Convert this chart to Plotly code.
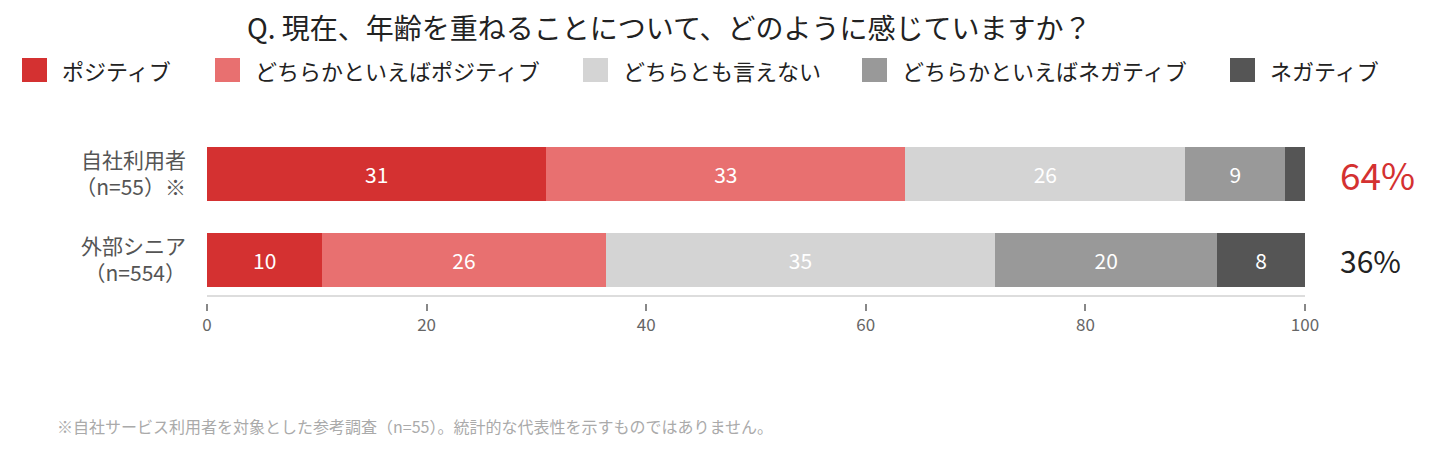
import plotly.graph_objects as go

# data
groups = ['自社利用者<br>（n=55）※', '外部シニア<br>（n=554）']
answers = ['ポジティブ', 'どちらかといえばポジティブ', 'どちらとも言えない',
           'どちらかといえばネガティブ', 'ネガティブ']
own_users = [30.9, 32.7, 25.5, 9.1, 1.8]
own_labels = ['31', '33', '26', '9', '']
senior = [10.5, 25.8, 35.5, 20.2, 8.0]
senior_labels = ['10', '26', '35', '20', '8']
positive_share = ['64%', '36%']
title = 'Q. 現在、年齢を重ねることについて、どのように感じていますか？'
note = '※自社サービス利用者を対象とした参考調査（n=55）。統計的な代表性を示すものではありません。'

COLORS = ['#d43131', '#e87070', '#d4d4d4', '#999999', '#555555']
FONT = 'Noto Sans CJK JP'

# page has an 8px body margin, so the figure is a bit smaller than the window
OFF = 8
W, H = 1433 - OFF, 449 - OFF
L, R, T, B = 207 - OFF, 128, 131 - OFF, 146
PW, PH = W - L - R, H - T - B


def px_x(px):
    return (px - OFF - L) / PW


def px_y(py):
    return (H - B - (py - OFF)) / PH


fig = go.Figure()
for i, name in enumerate(answers):
    fig.add_trace(go.Bar(
        name=name,
        y=groups,
        x=[own_users[i], senior[i]],
        text=[own_labels[i], senior_labels[i]],
        orientation='h',
        marker=dict(color=COLORS[i], line=dict(width=0)),
        textposition='inside',
        insidetextanchor='middle',
        textfont=dict(color='white', size=21, family=FONT),
        hoverinfo='x+name',
        showlegend=False,
    ))

# legend drawn by hand so the squares can be big
legend_x = [22, 215, 583, 862, 1230]
for i, name in enumerate(answers):
    fig.add_shape(type='rect', xref='paper', yref='paper',
                  x0=px_x(legend_x[i]), x1=px_x(legend_x[i] + 25),
                  y0=px_y(82), y1=px_y(58),
                  fillcolor=COLORS[i], line=dict(width=0))
    fig.add_annotation(text=name, xref='paper', yref='paper',
                       x=px_x(legend_x[i] + 38), y=px_y(70),
                       xanchor='left', yanchor='middle', showarrow=False,
                       font=dict(size=22, color='#222222', family=FONT))

# light baseline above the ticks
fig.add_shape(type='line', xref='x', yref='paper', x0=0, x1=100,
              y0=px_y(296), y1=px_y(296),
              line=dict(color='#dddddd', width=2))

# share of positive answers on the right
share_colors = ['#d43131', '#222222']
share_sizes = [37, 30]
for g, s, c, fs in zip(groups, positive_share, share_colors, share_sizes):
    fig.add_annotation(text=s, xref='paper', yref='y', x=1, y=g,
                       xanchor='left', yanchor='middle', xshift=33,
                       showarrow=False, font=dict(size=fs, color=c, family=FONT))

fig.add_annotation(text=title, xref='paper', yref='paper',
                   x=px_x(669), y=px_y(27), xanchor='center', yanchor='middle',
                   showarrow=False, font=dict(size=28, color='#222222', family=FONT))

fig.add_annotation(text=note, xref='paper', yref='paper',
                   x=px_x(55), y=px_y(426), xanchor='left', yanchor='middle',
                   showarrow=False, font=dict(size=16, color='#aaaaaa', family=FONT))

fig.update_layout(
    width=W, height=H,
    barmode='stack',
    bargap=0.38,
    margin=dict(l=L, r=R, t=T, b=B),
    plot_bgcolor='white',
    paper_bgcolor='white',
    font=dict(family=FONT),
    uniformtext=dict(minsize=10, mode='hide'),
)
fig.update_xaxes(range=[0, 100], tickvals=[0, 20, 40, 60, 80, 100],
                 showgrid=False, zeroline=False, showline=False,
                 ticks='outside', ticklen=7, tickwidth=2, tickcolor='#888888',
                 tickfont=dict(size=17, color='#666666', family=FONT))
fig.update_yaxes(categoryorder='array', categoryarray=groups,
                 range=[1.5, -0.5], showgrid=False, zeroline=False,
                 showline=False, ticks='', ticklabelstandoff=20,
                 tickfont=dict(size=21, color='#555555', family=FONT))

fig.write_html('out.html')
